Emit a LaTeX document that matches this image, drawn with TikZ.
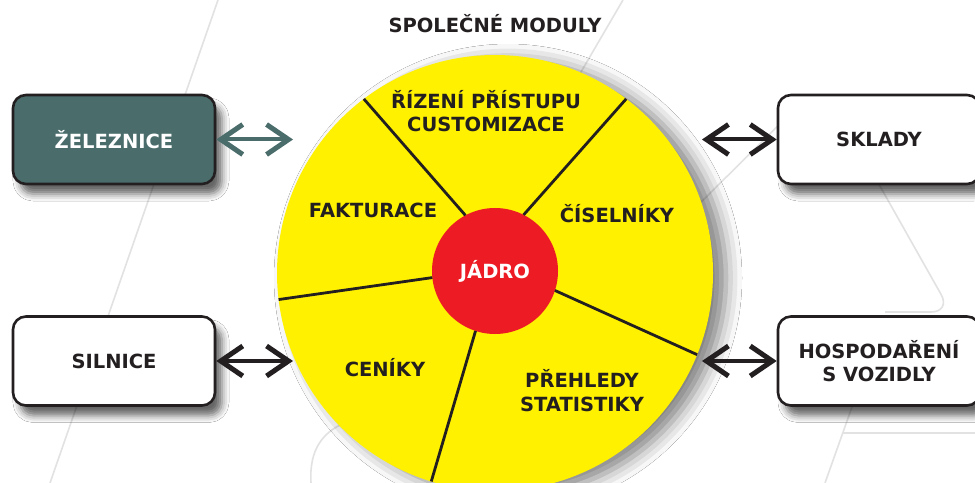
\documentclass[tikz,border=0pt]{standalone}
\usepackage{fontspec}
\setmainfont{DejaVu Sans}
\usetikzlibrary{arrows.meta,shadows.blur,calc}
\definecolor{ink}{HTML}{231F20}
\definecolor{railteal}{HTML}{4A6D6C}
\definecolor{yel}{HTML}{FFF100}
\definecolor{corered}{HTML}{ED1C24}
\definecolor{bggray}{HTML}{E2E2E2}
\begin{document}
\begin{tikzpicture}[x=1bp,y=-1bp,
  txt/.style={font=\bfseries\fontsize{19.5bp}{23.5bp}\selectfont, text=ink, align=center},
  lbl/.style={txt, anchor=base, inner sep=0pt},
  bgline/.style={draw=bggray, line width=1.6bp},
  sysbox/.style={txt, draw=ink, line width=2.6bp, rounded corners=13bp,
    minimum width=202bp, minimum height=89bp, fill=white,
    blur shadow={shadow xshift=7bp, shadow yshift=-10bp, shadow blur radius=7bp, shadow opacity=60}},
  barb/.tip={Straight Barb[length=22bp,width=30bp,line width=5bp]},
  link/.style={line width=4bp, draw=ink, barb-barb},
  divider/.style={line width=2.8bp, draw=ink}
]
\useasboundingbox (0,0) rectangle (975,483);
\clip (0,0) rectangle (975,483);
\fill[white] (0,0) rectangle (975,483);

% faint background outline
\draw[bgline] (218,0) -- (50,483);
\draw[bgline] (623,0) -- (560,108);
\draw[bgline] (690,213) -- (790,114);
\draw[bgline, rounded corners=20bp] (872,172) -- (951,312) -- (885,312);
\draw[bgline] (858,390) -- (825,483);
\draw[bgline] (843,433) -- (975,433);
\draw[bgline] (311,483) .. controls (309,450) and (322,430) .. (352,420);

% modules circle
\node[circle, fill=yel, minimum size=436bp, inner sep=0pt, outer sep=0pt,
  blur shadow={shadow xshift=13bp, shadow yshift=-5bp, shadow blur radius=16bp, shadow opacity=50}]
  (ring) at (495,273) {};
\node[circle, fill=corered, minimum size=126bp, inner sep=0pt, outer sep=0pt, txt, text=white]
  (core) at (495,271) {JÁDRO};

\draw[divider] (core.118.9) -- (ring.127.4);
\draw[divider] (core.63.4) -- (ring.53.6);
\draw[divider] (core.186.3) -- (ring.187.4);
\draw[divider] (core.342.1) -- (ring.338.2);
\draw[divider] (core.252.1) -- (ring.253.2);

\node[lbl] (spol) at (495,33) {SPOLEČNÉ MODULY};
\node[lbl] (riz) at (486,132) {ŘÍZENÍ PŘÍSTUPU\\CUSTOMIZACE};
\node[lbl] (fakt) at (373,218) {FAKTURACE};
\node[lbl] (cis) at (617,223) {ČÍSELNÍKY};
\node[lbl] (cen) at (385,377) {CENÍKY};
\node[lbl] (preh) at (582,411) {PŘEHLEDY\\STATISTIKY};

% systems
\node[sysbox, fill=railteal, text=white] (zel) at (114,139.5) {ŽELEZNICE};
\node[sysbox] (sil) at (114,361) {SILNICE};
\node[sysbox] (skl) at (879,139.5) {SKLADY};
\node[sysbox] (hosp) at (879,361) {HOSPODAŘENÍ\\S VOZIDLY};

\coordinate (zelA) at (293,139.5);
\coordinate (silA) at (293,361);
\coordinate (sklA) at (702,139.5);
\coordinate (hospA) at (702,361);
\draw[link, draw=railteal] (zel.east) -- (zelA);
\draw[link] (sil.east) -- (silA);
\draw[link] (sklA) -- (skl.west);
\draw[link] (hospA) -- (hosp.west);
\end{tikzpicture}
\end{document}
